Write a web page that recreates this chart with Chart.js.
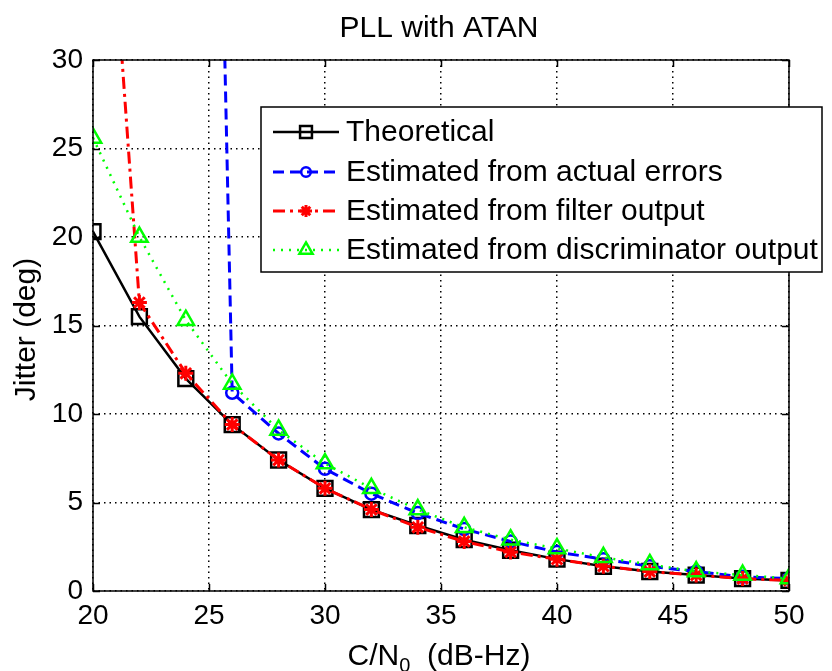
<!DOCTYPE html>
<html>
<head>
<meta charset="utf-8">
<title>PLL with ATAN</title>
<script src="https://cdn.jsdelivr.net/npm/chart.js@4.4.1/dist/chart.umd.min.js"></script>
<style>
  html, body { margin: 0; padding: 0; background: #fff; }
  #wrap { width: 832px; height: 671px; }
</style>
</head>
<body>
<div id="wrap"><canvas id="chartjs-0" width="832" height="671"></canvas></div>
<script>
// C/N0 values (dB-Hz)
var cn0 = [20, 22, 24, 26, 28, 30, 32, 34, 36, 38, 40, 42, 44, 46, 48, 50];

// jitter (deg)
var theoretical   = [20.3, 15.5, 12.0, 9.4, 7.4, 5.8, 4.6, 3.7, 2.9, 2.3, 1.8, 1.4, 1.1, 0.9, 0.7, 0.6];
var actualErrors  = [null, null, 130, 11.2, 8.9, 6.9, 5.5, 4.4, 3.5, 2.8, 2.2, 1.8, 1.4, 1.1, 0.8, 0.7];
var filterOutput  = [53, 16.3, 12.3, 9.4, 7.4, 5.8, 4.6, 3.6, 2.8, 2.2, 1.8, 1.4, 1.1, 0.9, 0.7, 0.6];
var discrimOutput = [25.6, 20.0, 15.3, 11.7, 9.1, 7.2, 5.8, 4.6, 3.6, 2.9, 2.4, 1.9, 1.5, 1.1, 0.9, 0.7];

var seriesNames = ["Theoretical", "Estimated from actual errors",
                   "Estimated from filter output", "Estimated from discriminator output"];

var xTicks = [20, 25, 30, 35, 40, 45, 50];
var yTicks = [0, 5, 10, 15, 20, 25, 30];

var FONT = '"Liberation Sans", Arial, sans-serif';

function pts(vals) {
    var out = [];
    for (var i = 0; i < cn0.length; i++) {
        if (vals[i] !== null) out.push({ x: cn0[i], y: vals[i] });
    }
    return out;
}

var datasets = [
    { label: seriesNames[0], data: pts(theoretical), borderColor: "#000", borderWidth: 2.5,
      pointStyle: "rect", pointRadius: 10.5, pointBorderWidth: 2.5, order: 3 },
    { label: seriesNames[1], data: pts(actualErrors), borderColor: "#0000ff", borderWidth: 3,
      borderDash: [11, 6], pointStyle: "circle", pointRadius: 6, pointBorderWidth: 2.5, order: 2 },
    { label: seriesNames[2], data: pts(filterOutput), borderColor: "#ff0000", borderWidth: 3,
      borderDash: [12, 5, 3, 5], pointStyle: "star", pointRadius: 7.5, pointBorderWidth: 3, order: 1 },
    { label: seriesNames[3], data: pts(discrimOutput), borderColor: "#00ff00", borderWidth: 2.5,
      borderDash: [2, 6], pointStyle: "triangle", pointRadius: 9.5, pointBorderWidth: 2.5, order: 0 }
];
datasets.forEach(function (d) {
    d.backgroundColor = "rgba(0,0,0,0)";
    d.pointBackgroundColor = "rgba(0,0,0,0)";
    d.pointBorderColor = d.borderColor;
    d.tension = 0;
    d.fill = false;
});

// frame, inward ticks, title, axis labels and legend (MATLAB style)
var matlabDecor = {
    id: "matlabDecor",
    afterDraw: function (chart) {
        var ctx = chart.ctx, a = chart.chartArea;
        var xs = chart.scales.x, ys = chart.scales.y;
        ctx.save();

        // box
        ctx.strokeStyle = "#000";
        ctx.lineWidth = 1.5;
        ctx.setLineDash([]);
        ctx.strokeRect(a.left, a.top, a.right - a.left, a.bottom - a.top);

        // inward ticks
        var tl = 7;
        ctx.beginPath();
        xTicks.forEach(function (v) {
            var px = Math.round(xs.getPixelForValue(v)) + 0.5;
            ctx.moveTo(px, a.bottom); ctx.lineTo(px, a.bottom - tl);
            ctx.moveTo(px, a.top); ctx.lineTo(px, a.top + tl);
        });
        yTicks.forEach(function (v) {
            var py = Math.round(ys.getPixelForValue(v)) + 0.5;
            ctx.moveTo(a.left, py); ctx.lineTo(a.left + tl, py);
            ctx.moveTo(a.right, py); ctx.lineTo(a.right - tl, py);
        });
        ctx.stroke();

        ctx.fillStyle = "#000";
        // title
        ctx.font = "30px " + FONT;
        ctx.textAlign = "center";
        ctx.textBaseline = "alphabetic";
        ctx.fillText("PLL with ATAN", (a.left + a.right) / 2 - 2, 37);

        // x axis label with subscript
        var p1 = "C/N", sub = "0", p2 = "  (dB-Hz)";
        ctx.font = "30px " + FONT;
        var w1 = ctx.measureText(p1).width, w2 = ctx.measureText(p2).width;
        ctx.font = "20px " + FONT;
        var ws = ctx.measureText(sub).width;
        var x0 = (a.left + a.right) / 2 - (w1 + ws + w2) / 2 - 2;
        ctx.textAlign = "left";
        ctx.font = "30px " + FONT;
        ctx.fillText(p1, x0, 665);
        ctx.font = "20px " + FONT;
        ctx.fillText(sub, x0 + w1, 672);
        ctx.font = "30px " + FONT;
        ctx.fillText(p2, x0 + w1 + ws, 665);

        // y axis label
        ctx.save();
        ctx.translate(35, (a.top + a.bottom) / 2 + 4);
        ctx.rotate(-Math.PI / 2);
        ctx.textAlign = "center";
        ctx.font = "30px " + FONT;
        ctx.fillText("Jitter (deg)", 0, 0);
        ctx.restore();

        // legend
        var lx = 261, ly = 107, lw = 561, lh = 165;
        ctx.fillStyle = "#fff";
        ctx.fillRect(lx, ly, lw, lh);
        ctx.strokeStyle = "#000";
        ctx.lineWidth = 1.5;
        ctx.strokeRect(lx, ly, lw, lh);
        var rows = [132, 172, 211, 250];
        chart.data.datasets.forEach(function (d, i) {
            var y = rows[i];
            ctx.save();
            ctx.strokeStyle = d.borderColor;
            ctx.fillStyle = "rgba(0,0,0,0)";
            ctx.lineWidth = d.borderWidth;
            ctx.setLineDash(d.borderDash || []);
            ctx.beginPath();
            ctx.moveTo(273, y); ctx.lineTo(339, y);
            ctx.stroke();
            ctx.setLineDash([]);
            ctx.lineWidth = d.pointBorderWidth;
            Chart.helpers.drawPoint(ctx, {
                pointStyle: d.pointStyle, radius: d.pointRadius * 0.8, rotation: 0,
                borderWidth: d.pointBorderWidth
            }, 306, y);
            ctx.restore();
            ctx.fillStyle = "#000";
            ctx.font = "30px " + FONT;
            ctx.textAlign = "left";
            ctx.textBaseline = "middle";
            ctx.fillText(d.label, 346, y + 1);
        });
        ctx.restore();
    }
};

var ctx = document.getElementById("chartjs-0");
var myChart = new Chart(ctx, {
    type: "line",
    data: { datasets: datasets },
    options: {
        responsive: false,
        animation: false,
        devicePixelRatio: 1,
        layout: { padding: { top: 60, right: 43, left: 0, bottom: 0 } },
        plugins: {
            legend: { display: false },
            title: { display: false },
            tooltip: { enabled: false }
        },
        scales: {
            x: {
                type: "linear", min: 20, max: 50,
                afterFit: function (s) { s.height = 80; },
                afterBuildTicks: function (s) { s.ticks = xTicks.map(function (v) { return { value: v }; }); },
                grid: { color: "#000", lineWidth: 1.5, drawTicks: false },
                border: { display: false, dash: [1.5, 4] },
                ticks: { color: "#000", font: { family: FONT, size: 28 }, padding: 8, maxRotation: 0 }
            },
            y: {
                min: 0, max: 30,
                afterFit: function (s) { s.width = 93; },
                afterBuildTicks: function (s) { s.ticks = yTicks.map(function (v) { return { value: v }; }); },
                grid: { color: "#000", lineWidth: 1.5, drawTicks: false },
                border: { display: false, dash: [1.5, 4] },
                ticks: { color: "#000", font: { family: FONT, size: 28 }, padding: 10 }
            }
        }
    },
    plugins: [matlabDecor]
});
</script>
</body>
</html>
